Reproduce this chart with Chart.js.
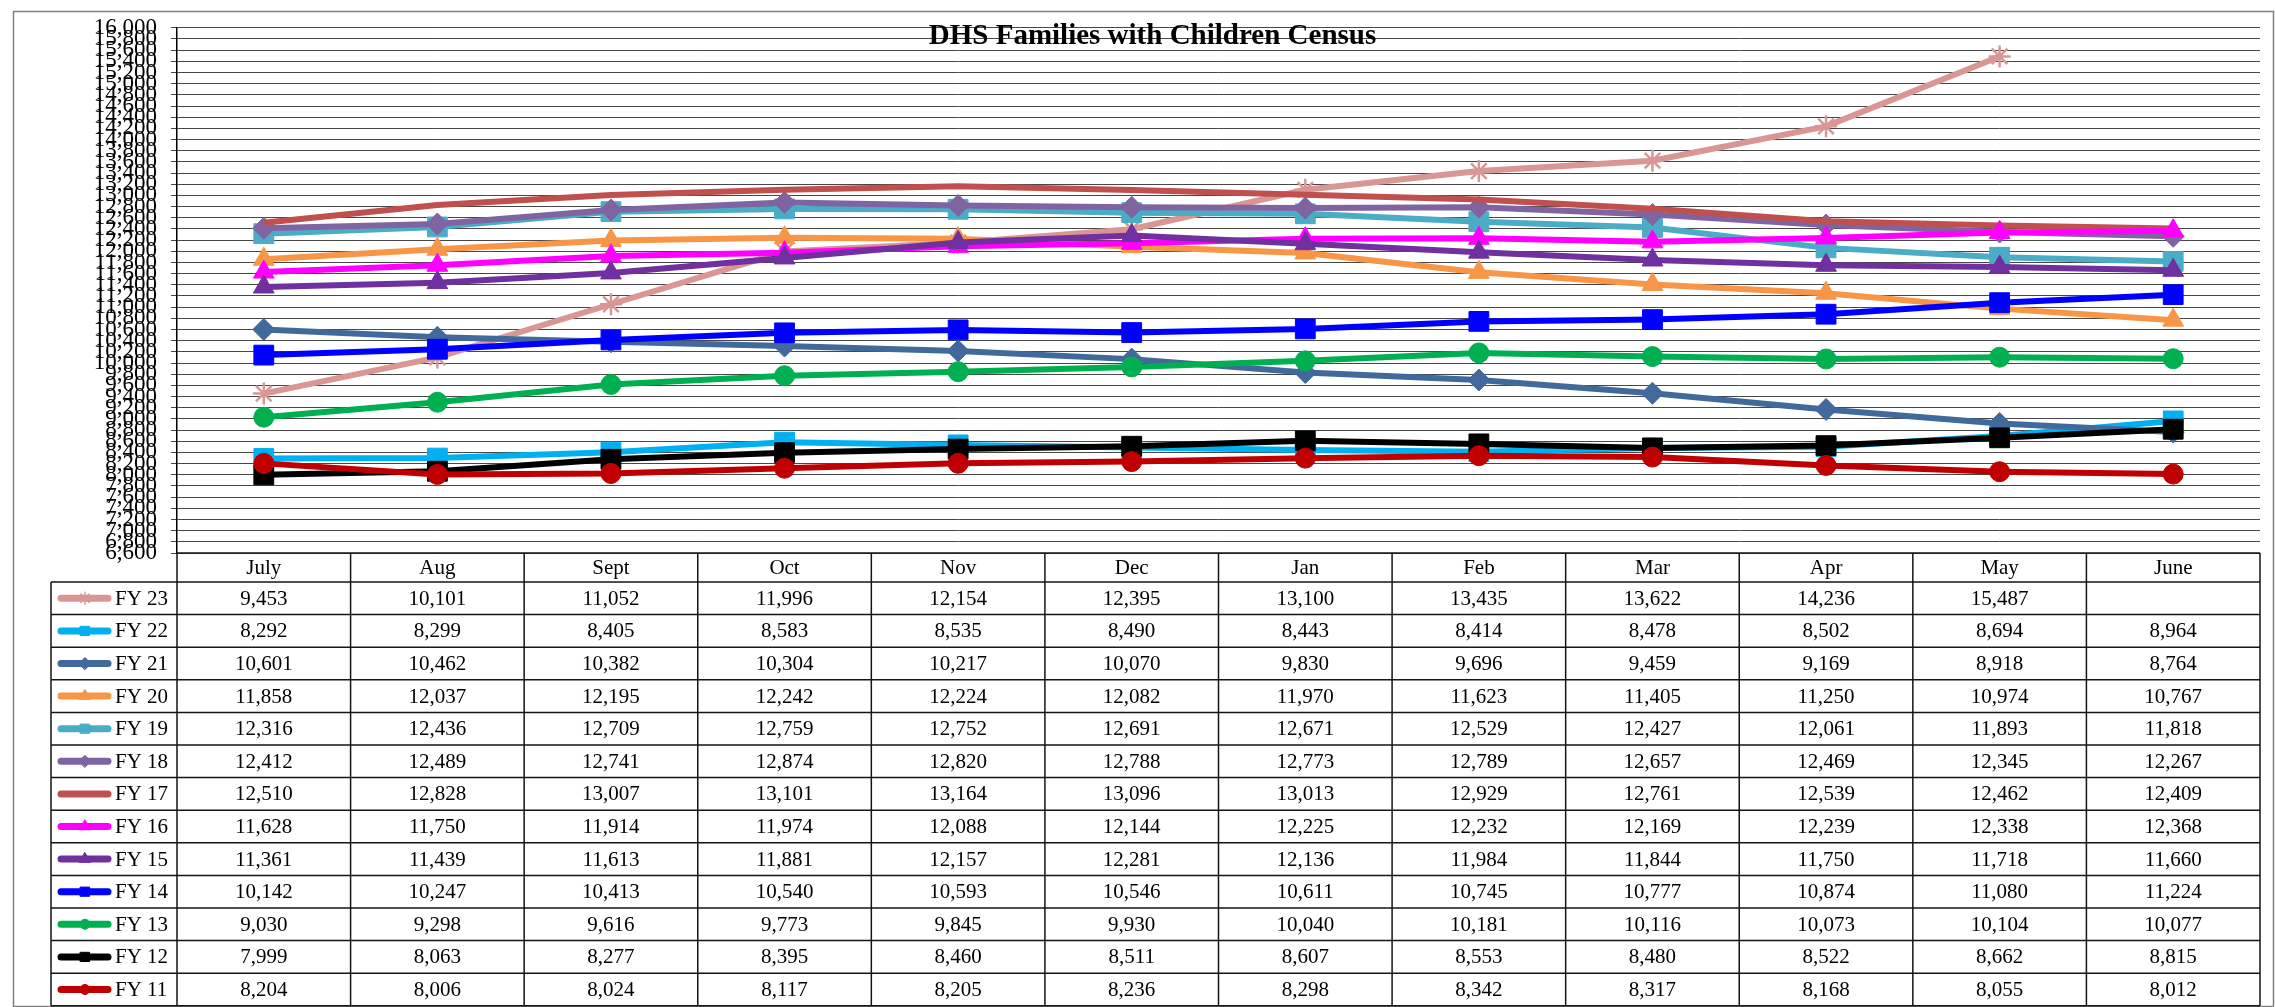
<!DOCTYPE html>
<html>
<head>
<meta charset="utf-8">
<script src="https://cdn.jsdelivr.net/npm/chart.js@4/dist/chart.umd.min.js"></script>
<style>
html,body{margin:0;padding:0;background:#fff;overflow:hidden}
canvas{display:block}
</style>
</head>
<body>
<canvas id="c" width="2275" height="1007"></canvas>
<script>
// ---------- DATA ----------
const chartTitle = 'DHS Families with Children Census';
const categories = ['July','Aug','Sept','Oct','Nov','Dec','Jan','Feb','Mar','Apr','May','June'];
const seriesLabels = ['FY 23','FY 22','FY 21','FY 20','FY 19','FY 18','FY 17','FY 16','FY 15','FY 14','FY 13','FY 12','FY 11'];

const fy23 = [9453,10101,11052,11996,12154,12395,13100,13435,13622,14236,15487,null];
const fy22 = [8292,8299,8405,8583,8535,8490,8443,8414,8478,8502,8694,8964];
const fy21 = [10601,10462,10382,10304,10217,10070,9830,9696,9459,9169,8918,8764];
const fy20 = [11858,12037,12195,12242,12224,12082,11970,11623,11405,11250,10974,10767];
const fy19 = [12316,12436,12709,12759,12752,12691,12671,12529,12427,12061,11893,11818];
const fy18 = [12412,12489,12741,12874,12820,12788,12773,12789,12657,12469,12345,12267];
const fy17 = [12510,12828,13007,13101,13164,13096,13013,12929,12761,12539,12462,12409];
const fy16 = [11628,11750,11914,11974,12088,12144,12225,12232,12169,12239,12338,12368];
const fy15 = [11361,11439,11613,11881,12157,12281,12136,11984,11844,11750,11718,11660];
const fy14 = [10142,10247,10413,10540,10593,10546,10611,10745,10777,10874,11080,11224];
const fy13 = [9030,9298,9616,9773,9845,9930,10040,10181,10116,10073,10104,10077];
const fy12 = [7999,8063,8277,8395,8460,8511,8607,8553,8480,8522,8662,8815];
const fy11 = [8204,8006,8024,8117,8205,8236,8298,8342,8317,8168,8055,8012];
const seriesValues = [fy23,fy22,fy21,fy20,fy19,fy18,fy17,fy16,fy15,fy14,fy13,fy12,fy11];

const yMin = 6600, yMax = 16000, yStep = 200;

// ---------- STYLE ----------
const colors = ['#D99694','#00B0F0','#41699B','#F79646','#4BACC6','#8064A2','#C0504D','#FF00FF','#7030A0','#0000FF','#00B050','#000000','#C00000'];
const pointStyles = ['star','rect','rectRot','triangle','rect','rectRot',null,'triangle','triangle','rect','circle','rect','circle'];
const styleRadius = {star:11, rect:14, rectRot:11, triangle:12, circle:10};
const swatchRadius = {star:6, rect:6.5, rectRot:6, triangle:6.5, circle:5};
const serif = '"Liberation Serif", "Times New Roman", serif';

const datasets = seriesLabels.map((label, i) => ({
  label: label,
  data: seriesValues[i],
  borderColor: colors[i],
  backgroundColor: colors[i],
  borderWidth: 6,
  pointStyle: pointStyles[i] || 'circle',
  pointRadius: pointStyles[i] ? styleRadius[pointStyles[i]] : 0,
  pointBackgroundColor: colors[i],
  pointBorderColor: colors[i],
  pointBorderWidth: pointStyles[i] === 'star' ? 2.5 : 1,
  tension: 0,
  order: seriesLabels.length - 1 - i
}));

const tablePlugin = {
  id: 'dataTable',
  afterDraw(chart) {
    const ctx = chart.ctx, xs = chart.scales.x, area = chart.chartArea;
    const n = categories.length;
    const colW = xs.getPixelForValue(1) - xs.getPixelForValue(0);
    const top = area.bottom, headerH = 29, rowH = 32.6, legendLeft = 51;
    const bodyTop = top + headerH;
    const bottom = bodyTop + rowH * seriesLabels.length;
    ctx.save();
    // outer border
    ctx.strokeStyle = '#7f7f7f';
    ctx.lineWidth = 1.5;
    ctx.strokeRect(13.5, 11.5, 2260, 995);
    // table grid
    ctx.strokeStyle = '#151515';
    ctx.lineWidth = 1.5;
    ctx.beginPath();
    ctx.moveTo(area.left, top); ctx.lineTo(area.right, top);
    for (let r = 0; r <= seriesLabels.length; r++) {
      const y = bodyTop + r * rowH;
      ctx.moveTo(legendLeft, y); ctx.lineTo(area.right, y);
    }
    for (let c = 0; c <= n; c++) {
      const x = xs.getPixelForValue(0) - colW / 2 + c * colW;
      ctx.moveTo(x, top); ctx.lineTo(x, bottom);
    }
    ctx.moveTo(legendLeft, bodyTop); ctx.lineTo(legendLeft, bottom);
    ctx.stroke();
    // header
    ctx.fillStyle = '#000';
    ctx.font = '21px ' + serif;
    ctx.textAlign = 'center';
    ctx.textBaseline = 'middle';
    categories.forEach((c, i) => ctx.fillText(c, xs.getPixelForValue(i), top + headerH / 2 + 1));
    // rows
    seriesLabels.forEach((lab, r) => {
      const yc = bodyTop + r * rowH + rowH / 2;
      ctx.save();
      ctx.strokeStyle = colors[r];
      ctx.lineWidth = 7;
      ctx.lineCap = 'round';
      ctx.beginPath(); ctx.moveTo(61, yc); ctx.lineTo(108, yc); ctx.stroke();
      if (pointStyles[r]) {
        ctx.fillStyle = colors[r];
        ctx.strokeStyle = colors[r];
        ctx.lineWidth = pointStyles[r] === 'star' ? 1.5 : 1;
        Chart.helpers.drawPoint(ctx, {pointStyle: pointStyles[r], rotation: 0,
          radius: swatchRadius[pointStyles[r]], borderWidth: ctx.lineWidth}, 85, yc);
      }
      ctx.restore();
      ctx.fillStyle = '#000';
      ctx.textAlign = 'left';
      ctx.fillText(lab, 115, yc + 1);
      ctx.textAlign = 'center';
      seriesValues[r].forEach((v, i) => {
        if (v !== null && v !== undefined) ctx.fillText(v.toLocaleString('en-US'), xs.getPixelForValue(i), yc + 1);
      });
    });
    ctx.restore();
  }
};

new Chart(document.getElementById('c'), {
  type: 'line',
  data: { labels: categories, datasets: datasets },
  plugins: [tablePlugin],
  options: {
    responsive: false,
    animation: false,
    devicePixelRatio: 1,
    events: [],
    layout: { padding: { left: 40, right: 10, top: 0, bottom: 0 } },
    plugins: {
      legend: { display: false },
      tooltip: { enabled: false },
      title: {
        display: true,
        text: chartTitle,
        color: '#000',
        font: { family: serif, size: 29, weight: 'bold', lineHeight: 1 },
        padding: { top: 17.5, bottom: -23.5 }
      }
    },
    scales: {
      x: {
        type: 'category',
        offset: true,
        grid: { display: false },
        border: { display: false },
        ticks: { display: false },
        afterFit(s) { s.height = 454; }
      },
      y: {
        min: yMin,
        max: yMax,
        ticks: {
          stepSize: yStep,
          autoSkip: false,
          padding: 14,
          color: '#000',
          font: { family: serif, size: 23 },
          callback: v => Number(v).toLocaleString('en-US')
        },
        grid: { color: '#474747', lineWidth: 1, tickLength: 6, drawTicks: true },
        border: { display: true, color: '#000', width: 1.5 },
        afterFit(s) { s.width = 137; }
      }
    }
  }
});
</script>
</body>
</html>
